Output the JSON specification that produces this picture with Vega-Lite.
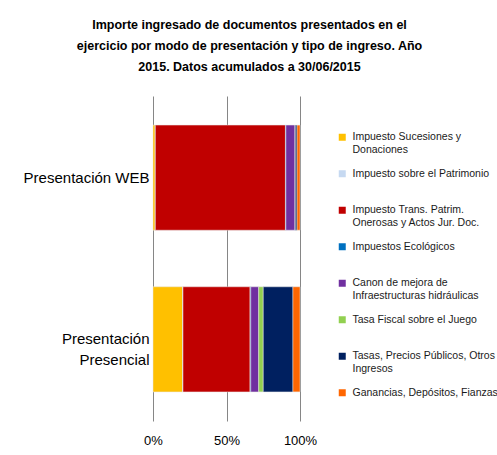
{
  "$schema": "https://vega.github.io/schema/vega-lite/v6.json",
  "width": 147,
  "height": 325,
  "autosize": "none",
  "padding": {"left": 153, "top": 96, "right": 197, "bottom": 34},
  "background": "white",
  "title": {
    "text": ["Importe ingresado de documentos presentados en el", "ejercicio por modo de presentación y tipo de ingreso. Año", "2015. Datos acumulados a 30/06/2015"],
    "font": "Liberation Sans",
    "fontSize": 12.5,
    "fontWeight": "bold",
    "color": "black",
    "lineHeight": 21,
    "anchor": "middle",
    "dx": 23,
    "offset": 23
  },
  "data": {
    "values": [
      {"modo": "Presentación WEB", "tipo": "Impuesto Sucesiones y Donaciones", "orden": 1, "valor": 1.5},
      {"modo": "Presentación WEB", "tipo": "Impuesto sobre el Patrimonio", "orden": 2, "valor": 0.1},
      {"modo": "Presentación WEB", "tipo": "Impuesto Trans. Patrim. Onerosas y Actos Jur. Doc.", "orden": 3, "valor": 88.5},
      {"modo": "Presentación WEB", "tipo": "Impuestos Ecológicos", "orden": 4, "valor": 0.3},
      {"modo": "Presentación WEB", "tipo": "Canon de mejora de Infraestructuras hidráulicas", "orden": 5, "valor": 6.2},
      {"modo": "Presentación WEB", "tipo": "Tasa Fiscal sobre el Juego", "orden": 6, "valor": 0.2},
      {"modo": "Presentación WEB", "tipo": "Tasas, Precios Públicos, Otros Ingresos", "orden": 7, "valor": 1.2},
      {"modo": "Presentación WEB", "tipo": "Ganancias, Depósitos, Fianzas", "orden": 8, "valor": 2.0},
      {"modo": "Presentación Presencial", "tipo": "Impuesto Sucesiones y Donaciones", "orden": 1, "valor": 20.2},
      {"modo": "Presentación Presencial", "tipo": "Impuesto sobre el Patrimonio", "orden": 2, "valor": 0.2},
      {"modo": "Presentación Presencial", "tipo": "Impuesto Trans. Patrim. Onerosas y Actos Jur. Doc.", "orden": 3, "valor": 45.6},
      {"modo": "Presentación Presencial", "tipo": "Impuestos Ecológicos", "orden": 4, "valor": 0.5},
      {"modo": "Presentación Presencial", "tipo": "Canon de mejora de Infraestructuras hidráulicas", "orden": 5, "valor": 5.4},
      {"modo": "Presentación Presencial", "tipo": "Tasa Fiscal sobre el Juego", "orden": 6, "valor": 3.1},
      {"modo": "Presentación Presencial", "tipo": "Tasas, Precios Públicos, Otros Ingresos", "orden": 7, "valor": 20.2},
      {"modo": "Presentación Presencial", "tipo": "Ganancias, Depósitos, Fianzas", "orden": 8, "valor": 4.8}
    ]
  },
  "mark": {"type": "bar", "stroke": "#e6e6e6", "strokeWidth": 0.5},
  "encoding": {
    "y": {
      "field": "modo",
      "type": "nominal",
      "sort": ["Presentación WEB", "Presentación Presencial"],
      "scale": {"paddingInner": 0.35, "paddingOuter": 0.18},
      "axis": {
        "title": null,
        "domain": false,
        "ticks": false,
        "labelFont": "Liberation Sans",
        "labelFontSize": 15,
        "labelColor": "black",
        "labelPadding": 4,
        "labelLimit": 200,
        "labelLineHeight": 21,
        "labelExpr": "datum.label == 'Presentación Presencial' ? ['Presentación', 'Presencial'] : datum.label"
      }
    },
    "x": {
      "field": "valor",
      "type": "quantitative",
      "stack": "normalize",
      "scale": {"domain": [0, 1], "nice": false},
      "axis": {
        "title": null,
        "format": ".0%",
        "values": [0, 0.5, 1],
        "domain": false,
        "ticks": false,
        "grid": true,
        "gridColor": "#868686",
        "gridWidth": 1,
        "labelFont": "Liberation Sans",
        "labelFontSize": 13,
        "labelColor": "black",
        "labelPadding": 13,
        "labelFlush": false
      }
    },
    "order": {"field": "orden", "type": "quantitative"},
    "color": {
      "field": "tipo",
      "type": "nominal",
      "scale": {
        "domain": ["Impuesto Sucesiones y Donaciones", "Impuesto sobre el Patrimonio", "Impuesto Trans. Patrim. Onerosas y Actos Jur. Doc.", "Impuestos Ecológicos", "Canon de mejora de Infraestructuras hidráulicas", "Tasa Fiscal sobre el Juego", "Tasas, Precios Públicos, Otros Ingresos", "Ganancias, Depósitos, Fianzas"],
        "range": ["#FFC000", "#C6D9F1", "#C00000", "#0070C0", "#7030A0", "#92D050", "#002060", "#FF6600"]
      },
      "legend": {
        "title": null,
        "orient": "none",
        "legendX": 184,
        "legendY": 36,
        "symbolType": "square",
        "symbolSize": 49,
        "symbolStrokeWidth": 0,
        "labelFont": "Liberation Sans",
        "labelFontSize": 10.5,
        "labelColor": "#1a1a1a",
        "labelLineHeight": 15,
        "labelOffset": 5,
        "labelLimit": 200,
        "rowPadding": 12.5,
        "labelExpr": "datum.label == 'Impuesto Sucesiones y Donaciones' ? ['Impuesto Sucesiones y', 'Donaciones'] : datum.label == 'Impuesto Trans. Patrim. Onerosas y Actos Jur. Doc.' ? ['Impuesto Trans. Patrim.', 'Onerosas y Actos Jur. Doc.'] : datum.label == 'Canon de mejora de Infraestructuras hidráulicas' ? ['Canon de mejora de', 'Infraestructuras hidráulicas'] : datum.label == 'Tasas, Precios Públicos, Otros Ingresos' ? ['Tasas, Precios Públicos, Otros', 'Ingresos'] : [datum.label, ' ']"
      }
    }
  },
  "config": {
    "view": {"stroke": null}
  }
}
